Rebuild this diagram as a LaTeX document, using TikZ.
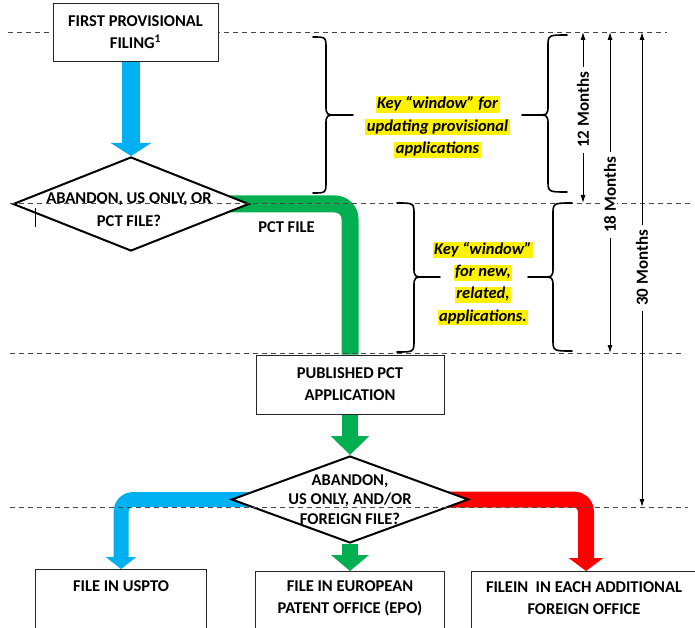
\documentclass[tikz,border=0pt]{standalone}
\usepackage{fontspec}
\setmainfont{Carlito}
\usetikzlibrary{arrows.meta,shapes.geometric}
\definecolor{flowblue}{RGB}{0,176,240}
\definecolor{flowgreen}{RGB}{0,176,80}
\definecolor{flowred}{RGB}{255,0,0}
\definecolor{dashgray}{RGB}{70,70,70}
\pgfdeclarelayer{flowlayer}
\pgfdeclarelayer{diamlayer}
\pgfdeclarelayer{dashlayer}
\pgfsetlayers{flowlayer,diamlayer,dashlayer,main}
\newcommand\bxfont{\fontsize{16.5}{22}\selectfont\bfseries}
\newcommand\hlline[1]{{\setlength{\fboxsep}{0pt}\colorbox{yellow}{\rule[-4pt]{0pt}{15.5pt}\hspace{1.5pt}#1\hspace{1.5pt}}}}
\newcommand\mybrace[6]{\draw[bracestyle] (#1,#4) .. controls (#2,#4) .. (#2,#4+12) -- (#2,#5-10) .. controls (#2,#5) .. ({#2+0.5*(#3-#2)},#5) -- (#3,#5) -- ({#2+0.5*(#3-#2)},#5) .. controls (#2,#5) .. (#2,#5+10) -- (#2,#6-12) .. controls (#2,#6) .. (#1,#6);}
\begin{document}
\begin{tikzpicture}[x=1pt,y=-1pt,
  box/.style={draw=black!85, line width=0.9pt, fill=white, inner sep=0pt, align=center, font=\bxfont},
  diam/.style={diamond, draw=black, line width=2pt, fill=white, inner sep=0pt},
  txt/.style={inner sep=0pt, align=center, font=\bxfont},
  keytext/.style={inner sep=0pt, align=center, font=\fontsize{16.5}{22.5}\selectfont\bfseries\itshape},
  dashline/.style={draw=dashgray, line width=0.8pt, dash pattern=on 5pt off 4pt},
  dimline/.style={draw=black, line width=0.9pt, {Latex[length=8pt,width=5pt]}-{Latex[length=8pt,width=5pt]}},
  dimlabel/.style={rotate=90, fill=white, inner xsep=5pt, inner ysep=1pt, font=\fontsize{17}{20}\selectfont\bfseries},
  bracestyle/.style={draw=black, line width=1.6pt, line cap=round, line join=round},
  flowshape/.style={line join=round}
]
\clip (0,0) rectangle (695,628);

% boxes
\node[box, minimum width=165, minimum height=58] (b1) at (135.5,32) {FIRST PROVISIONAL\\FILING\textsuperscript{1}};
\node[box, minimum width=188, minimum height=59] (pct) at (350,384.5) {PUBLISHED PCT\\APPLICATION};
\node[box, anchor=north, minimum width=171, minimum height=80] (uspto) at (121,569) {};
\node[box, anchor=north, minimum width=189, minimum height=80] (epo) at (350,571) {};
\node[box, anchor=north, minimum width=230, minimum height=80] (foreign) at (586,571) {};

% diamonds
\begin{pgfonlayer}{diamlayer}
\node[diam, minimum width=236, minimum height=94] (d1) at (131,204) {};
\node[diam, minimum width=237, minimum height=87] (d2) at (350,499.5) {};
\end{pgfonlayer}

% flows
\begin{pgfonlayer}{flowlayer}
\fill[white] (0,0) rectangle (695,628);
\draw[flowshape, flowblue, line width=18pt, -{Triangle[width=40pt,length=13pt]}] (b1.south -| d1.north) -- (d1.north);
\draw[flowshape, flowgreen, line width=17pt, rounded corners=15pt] (d1.center) -- (d1.center -| pct.north) -- (pct.north);
\draw[flowshape, flowgreen, line width=16pt, -{Triangle[width=37pt,length=19pt]}] (pct.south) -- (d2.north);
\draw[flowshape, flowgreen, line width=16pt, -{Triangle[width=37pt,length=16pt]}] (d2.south) -- (epo.north);
\draw[flowshape, flowblue, line width=15pt, rounded corners=12pt, -{Triangle[width=30pt,length=12pt]}] (d2.center) -- (d2.center -| uspto.north) -- (uspto.north);
\draw[flowshape, flowred, line width=16pt, rounded corners=12pt, -{Triangle[width=34pt,length=13pt]}] (d2.center) -- (d2.center -| foreign.north) -- (foreign.north);
\end{pgfonlayer}

% dashed time lines
\begin{pgfonlayer}{dashlayer}
\draw[dashline] (8,32) -- (667,32);
\draw[dashline] (10,203) -- (690,203);
\draw[dashline] (10,353.5) -- (683,353.5);
\draw[dashline] (10,507) -- (688,507);
\end{pgfonlayer}

% diamond texts
\node[txt, font=\fontsize{16.5}{23.5}\selectfont\bfseries] (d1t) at (129,209.5) {ABANDON, US ONLY, OR\\PCT FILE?};
\node[txt, font=\fontsize{16.5}{19.5}\selectfont\bfseries] (d2t) at (350,499.5) {ABANDON,\\US ONLY, AND/OR\\FOREIGN FILE?};
\node[txt] (pctlab) at (286.5,227) {PCT FILE};
\draw[line width=0.8pt] (35,208) -- (35,227);

% bottom box texts
\node[txt] (usptot) at (121,586) {FILE IN USPTO};
\node[txt] (epot) at (350,598) {FILE IN EUROPEAN\\PATENT OFFICE (EPO)};
\node[txt] (foreignt) at (584,598) {FILEIN~~IN EACH ADDITIONAL\\FOREIGN OFFICE};

% braces
\mybrace{313}{326}{353}{37}{115}{193}
\mybrace{567}{548}{522}{35}{115}{192}
\mybrace{397}{414}{440}{203}{277}{352}
\mybrace{572}{553}{528}{203}{277}{351}

% key window texts
\node[keytext] (k1) at (437.5,127) {\hlline{Key “window” for}\\\hlline{updating provisional}\\\hlline{applications}};
\node[keytext, font=\fontsize{16.5}{22.3}\selectfont\bfseries\itshape] (k2) at (483,283.7) {\hlline{Key “window”}\\\hlline{for new,}\\\hlline{related,}\\\hlline{applications.}};

% dimension arrows
\coordinate (m12a) at (583,32);
\coordinate (m12b) at (583,203);
\coordinate (m18a) at (610,32);
\coordinate (m18b) at (610,353);
\coordinate (m30a) at (642,32);
\coordinate (m30b) at (642,507);
\draw[dimline] (m12a) -- (m12b);
\draw[dimline] (m18a) -- (m18b);
\draw[dimline] (m30a) -- (m30b);
\node[dimlabel] (l12) at (583,110) {12 Months};
\node[dimlabel] (l18) at (610,195) {18 Months};
\node[dimlabel] (l30) at (642,268) {30 Months};
\end{tikzpicture}
\end{document}
